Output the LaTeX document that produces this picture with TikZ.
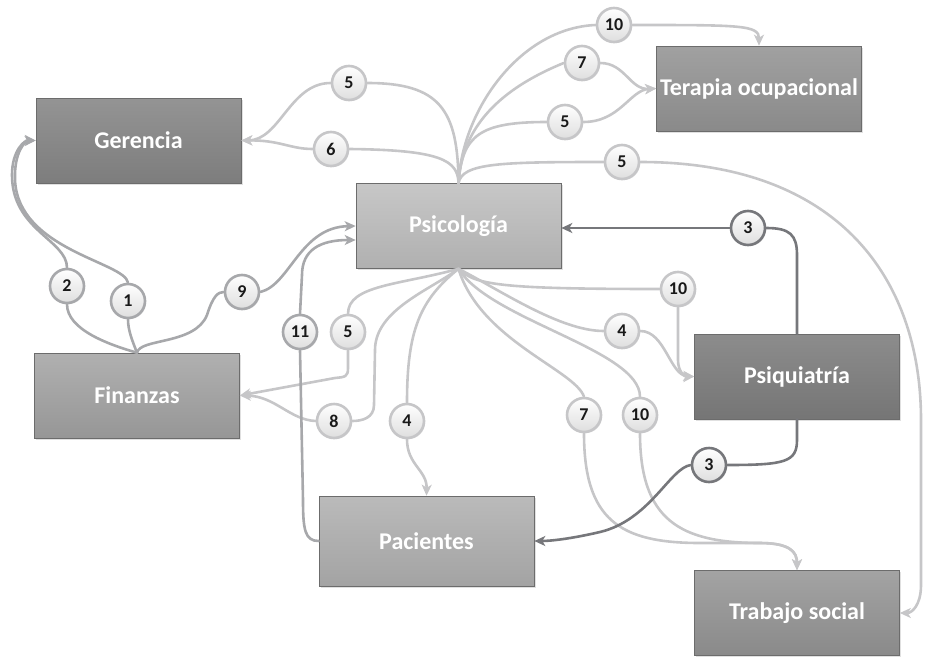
\documentclass[tikz,border=0pt]{standalone}
\usepackage{fontspec}
\setmainfont{Carlito}
\usetikzlibrary{arrows.meta,shadows,calc}
\definecolor{ltline}{HTML}{C6C6C8}
\definecolor{mdline}{HTML}{A7A8AB}
\definecolor{dkline}{HTML}{76777B}
\tikzset{
  box/.style={rectangle, minimum width=205pt, minimum height=85pt, inner sep=0pt,
    draw=#1!85!black, line width=0.6pt, text=white,
    font=\fontsize{24}{28}\selectfont\bfseries,
    drop shadow={shadow xshift=1.5pt, shadow yshift=-1.5pt, fill=black!20, opacity=0.6}},
  num/.style={circle, minimum size=34pt, inner sep=0pt, line width=2.6pt,
    draw=#1, top color=white, bottom color=black!13, text=black!90,
    font=\fontsize{18}{20}\selectfont\bfseries,
    drop shadow={shadow xshift=1.2pt, shadow yshift=-1.2pt, fill=black!25, opacity=0.5}},
  lt/.style={draw=ltline, line width=2.6pt, line cap=round, line join=round},
  md/.style={draw=mdline, line width=2.6pt, line cap=round, line join=round},
  dk/.style={draw=dkline, line width=2.6pt, line cap=round, line join=round},
  arr/.style={-{Stealth[length=11pt,width=10pt,inset=3pt]}},
}
\begin{document}
\begin{tikzpicture}[x=1pt,y=-1pt]
\useasboundingbox (0,0) rectangle (929,656);
% boxes
\node[box=gray, top color=black!42, bottom color=black!51] (ger) at (138.5,140.5) {Gerencia};
\node[box=gray, top color=black!22, bottom color=black!31] (psic) at (458.5,226) {Psicología};
\node[box=gray, top color=black!37, bottom color=black!46] (ter) at (759,88.5) {Terapia ocupacional};
\node[box=gray, top color=black!31, bottom color=black!41] (fin) at (137,395.5) {Finanzas};
\node[box=gray, top color=black!45, bottom color=black!54] (psiq) at (797,376.5) {Psiquiatría};
\node[box=gray, minimum width=215pt, minimum height=90pt, top color=black!27, bottom color=black!36] (pac) at (426.5,541) {Pacientes};
\node[box=gray, top color=black!36, bottom color=black!46] (trab) at (797,613) {Trabajo social};
% numbered circles
\node[num=ltline] (g5) at (349,83) {5};
\node[num=ltline] (g6) at (331,149) {6};
\node[num=ltline] (t10) at (614,25) {10};
\node[num=ltline] (t7) at (582,63) {7};
\node[num=ltline] (t5) at (565,122) {5};
\node[num=ltline] (s5) at (622,162) {5};
\node[num=dkline] (p3) at (748,228) {3};
\node[num=ltline] (r10) at (678,289) {10};
\node[num=ltline] (r4) at (622,331) {4};
\node[num=ltline] (f5) at (348,332) {5};
\node[num=ltline] (f8) at (334,421) {8};
\node[num=ltline] (k4) at (407,421) {4};
\node[num=ltline] (w7) at (584,415) {7};
\node[num=ltline] (w10) at (640,415) {10};
\node[num=dkline] (k3) at (709,465) {3};
\node[num=mdline] (c2) at (67,286) {2};
\node[num=mdline] (c1) at (128,301) {1};
\node[num=mdline] (c9) at (242,292) {9};
\node[num=mdline] (c11) at (300,332) {11};
% helper coordinates
\coordinate (trR1) at (921,420);
\coordinate (trR2) at (921,585);
\coordinate (tsJ) at (760,543);
% from Psicologia top
\draw[lt] (psic.north) .. controls (458,110) and (440,83) .. (g5.east);
\draw[lt,arr] (g5.west) .. controls (290,83) and (280,140) .. (ger.east);
\draw[lt] (psic.north) .. controls (458,160) and (440,150) .. (g6.east);
\draw[lt,arr] (g6.west) .. controls (290,149) and (280,140) .. (ger.east);
\draw[lt] (psic.north) .. controls (462,110) and (520,28) .. (t10.west);
\draw[lt,arr] (t10.east) .. controls (740,25) and (759,25) .. (ter.north);
\draw[lt] (psic.north) .. controls (462,120) and (510,85) .. (t7.west);
\draw[lt,arr] (t7.east) .. controls (625,63) and (630,90) .. (ter.west);
\draw[lt] (psic.north) .. controls (462,135) and (480,122) .. (t5.west);
\draw[lt,arr] (t5.east) .. controls (620,122) and (630,90) .. (ter.west);
\draw[lt] (psic.north) .. controls (462,163) and (500,162) .. (s5.west);
\draw[lt,arr] (s5.east) .. controls (840,162) and (921,280) .. (trR1) -- (trR2) .. controls (921,605) and (912,613) .. (trab.east);
% from Psicologia bottom
\draw[lt] (psic.south) .. controls (400,285) and (348,285) .. (f5.north);
\draw[lt,arr] (f5.south) -- (348,368) .. controls (348,377) and (345,377) .. (335,378) -- (fin.east);
\draw[lt] (psic.south) .. controls (430,290) and (375,310) .. (375,350) -- (374,405) .. controls (374,418) and (362,421) .. (f8.east);
\draw[lt,arr] (f8.west) .. controls (290,420) and (275,396) .. (fin.east);
\draw[lt] (psic.south) .. controls (420,300) and (407,330) .. (k4.north);
\draw[lt,arr] (k4.south) .. controls (407,465) and (427,470) .. (pac.north);
\draw[lt] (psic.south) .. controls (475,285) and (500,289) .. (r10.west);
\draw[lt,arr] (r10.south) -- (678,360) .. controls (678,372) and (685,377) .. (psiq.west);
\draw[lt] (psic.south) .. controls (500,290) and (560,331) .. (r4.west);
\draw[lt,arr] (r4.east) .. controls (665,331) and (670,375) .. (psiq.west);
\draw[lt] (psic.south) .. controls (480,340) and (575,370) .. (w7.north);
\draw[lt,arr] (w7.south) .. controls (584,520) and (620,543) .. (700,543) -- (tsJ) .. controls (790,543) and (797,552) .. (trab.north);
\draw[lt] (psic.south) .. controls (490,320) and (640,350) .. (w10.north);
\draw[lt,arr] (w10.south) .. controls (640,520) and (680,543) .. (tsJ) .. controls (790,543) and (797,552) .. (trab.north);
% from Finanzas top
\draw[md] (fin.north) .. controls (110,345) and (67,330) .. (c2.south);
\draw[md,arr] (c2.north) .. controls (67,240) and (12,230) .. (12,175) .. controls (12,150) and (25,140) .. (ger.west);
\draw[md] (fin.north) .. controls (132,340) and (128,330) .. (c1.south);
\draw[md,arr] (c1.north) .. controls (125,262) and (18,250) .. (15,180) .. controls (14,152) and (25,141) .. (ger.west);
\draw[md] (fin.north) .. controls (140,338) and (195,345) .. (207,315) .. controls (213,296) and (218,292) .. (c9.west);
\draw[md,arr] (c9.east) .. controls (290,285) and (300,227) .. (psic.west);
\draw[md] (pac.west) .. controls (305,541) and (303,530) .. (303,500) -- (c11.south);
\draw[md,arr] (c11.north) -- (302,275) .. controls (302,250) and (320,240) .. ($(psic.west)+(0,14)$);
% dark
\draw[dk] (psiq.north) -- (797,255) .. controls (797,235) and (790,228) .. (p3.east);
\draw[dk,arr] (p3.west) -- (p3.west -| psic.east);
\draw[dk] (psiq.south) -- (797,440) .. controls (797,462) and (785,465) .. (k3.east);
\draw[dk,arr] (k3.west) .. controls (670,468) and (650,520) .. (600,532) .. controls (570,539) and (550,541) .. (pac.east);
\end{tikzpicture}
\end{document}
